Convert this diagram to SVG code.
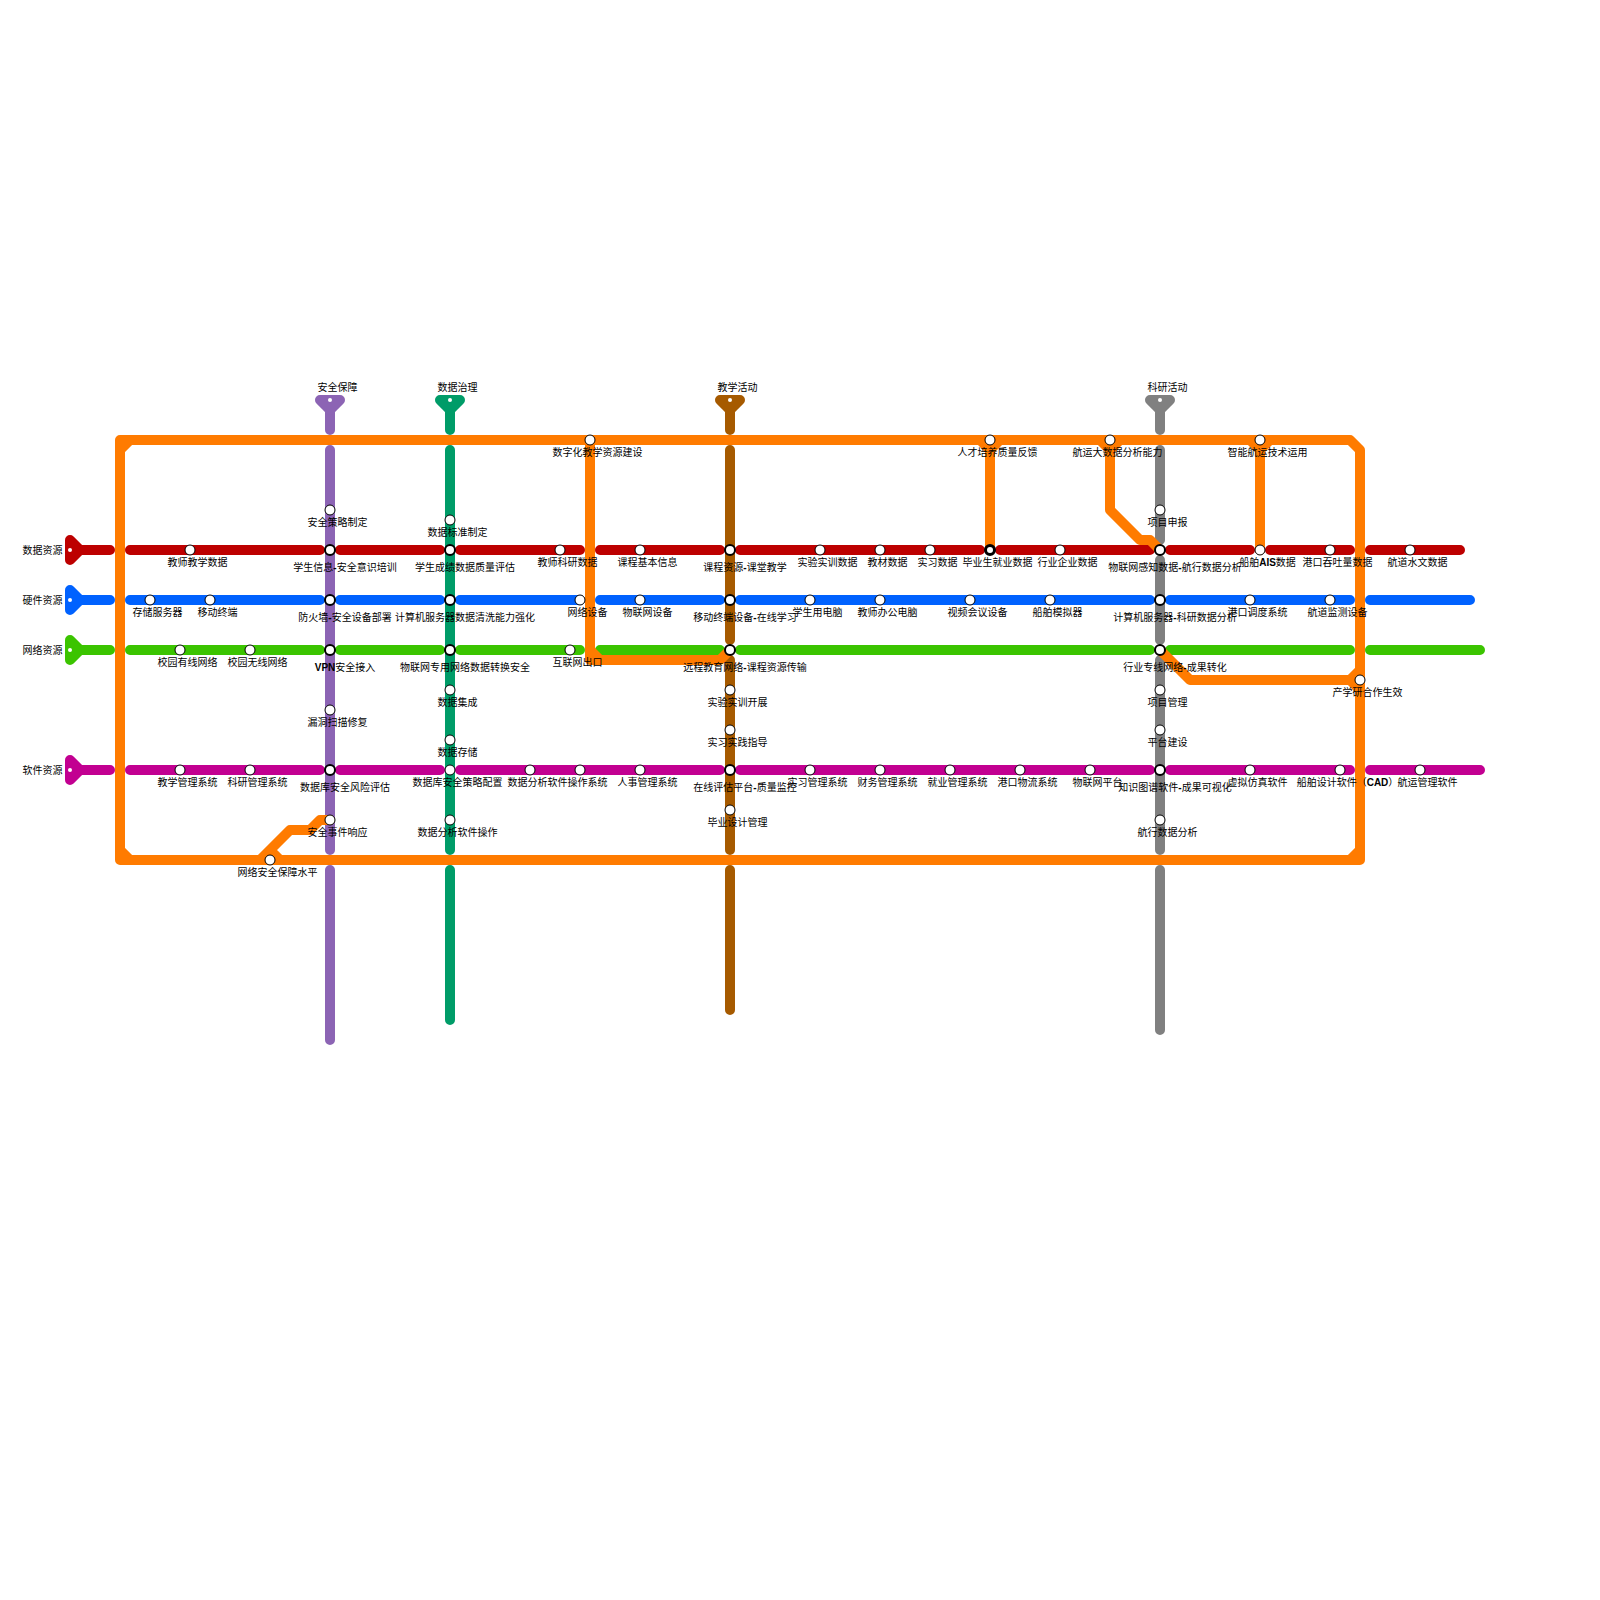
<svg xmlns="http://www.w3.org/2000/svg" width="1600" height="1600" viewBox="0 0 1600 1600">
<style>
text{font-family:"Liberation Sans","Noto Sans CJK SC",sans-serif;font-size:10px;fill:#000}
.t{text-anchor:middle}
.e{text-anchor:end}
.b{font-weight:bold}
.l{fill:none;stroke-width:10;stroke-linecap:round;stroke-linejoin:round}
.cap{stroke-width:10;stroke-linejoin:round}
.dot{fill:#fff;stroke:none}
.n{fill:#fff;stroke:#000;stroke-width:1;r:5px}
.x{fill:#fff;stroke:#000;stroke-width:2;r:5px}
.red{stroke:#bd0000}.redf{fill:#bd0000;stroke:#bd0000}
.blu{stroke:#0062ff}.bluf{fill:#0062ff;stroke:#0062ff}
.grn{stroke:#3bc400}.grnf{fill:#3bc400;stroke:#3bc400}
.mag{stroke:#c20091}.magf{fill:#c20091;stroke:#c20091}
.pur{stroke:#8c64b4}.purf{fill:#8c64b4;stroke:#8c64b4}
.tea{stroke:#009c68}.teaf{fill:#009c68;stroke:#009c68}
.bro{stroke:#a65a00}.brof{fill:#a65a00;stroke:#a65a00}
.gry{stroke:#808080}.gryf{fill:#808080;stroke:#808080}
.org{stroke:#ff7b00}
</style>
<g id="connectors">
<g id="line-data">
<path class="l red" d="M70 550H110M130 550H320M340 550H440M460 550H580M600 550H720M740 550H980M1000 550H1150M1170 550H1250M1270 550H1350M1370 550H1460"/>
<polygon class="cap redf" points="70,540 80,550 70,560"/>
</g>
<g id="line-hardware">
<path class="l blu" d="M70 600H110M130 600H320M340 600H440M460 600H580M600 600H720M740 600H1150M1170 600H1350M1370 600H1470"/>
<polygon class="cap bluf" points="70,590 80,600 70,610"/>
</g>
<g id="line-network">
<path class="l grn" d="M70 650H110M130 650H320M340 650H440M460 650H580M600 650H720M740 650H1150M1170 650H1350M1370 650H1480"/>
<polygon class="cap grnf" points="70,640 80,650 70,660"/>
</g>
<g id="line-software">
<path class="l mag" d="M70 770H110M130 770H320M340 770H440M460 770H720M740 770H1150M1170 770H1350M1370 770H1480"/>
<polygon class="cap magf" points="70,760 80,770 70,780"/>
</g>
<g id="line-security">
<path class="l pur" d="M330 400V430M330 450V850M330 870V1040"/>
<polygon class="cap purf" points="320,400 340,400 330,410"/>
</g>
<g id="line-governance">
<path class="l tea" d="M450 400V430M450 450V850M450 870V1020"/>
<polygon class="cap teaf" points="440,400 460,400 450,410"/>
</g>
<g id="line-teaching">
<path class="l bro" d="M730 400V430M730 450V640M730 660V850M730 870V1010"/>
<polygon class="cap brof" points="720,400 740,400 730,410"/>
</g>
<g id="line-research">
<path class="l gry" d="M1160 400V430M1160 450V540M1160 560V640M1160 660V850M1160 870V1030"/>
<polygon class="cap gryf" points="1150,400 1170,400 1160,410"/>
</g>
<g id="line-outcome">
<path class="l org" d="M1350 440H120V860H1360V450L1350 440"/>
<path class="l org" d="M120 450L130 440M120 850L130 860M1350 860L1360 850"/>
<path class="l org" d="M590 440V660H720L730 650M590 650L600 660"/>
<path class="l org" d="M980 440L990 450L1000 440M990 450V550"/>
<path class="l org" d="M1100 440L1110 450L1120 440M1110 440V510L1140 540H1150L1160 550"/>
<path class="l org" d="M1250 440L1260 450L1270 440M1260 450V550"/>
<path class="l org" d="M1160 650L1190 680H1350L1360 670M1350 680L1360 690"/>
<path class="l org" d="M260 860L290 830H310L320 820H330M270 850L280 860"/>
</g>
</g>
<g id="terminals">
<g id="term-data"><circle class="dot" cx="70" cy="550" r="2"/><text class="e" x="62.5" y="553.5">数据资源</text></g>
<g id="term-hardware"><circle class="dot" cx="70" cy="600" r="2"/><text class="e" x="62.5" y="603.5">硬件资源</text></g>
<g id="term-network"><circle class="dot" cx="70" cy="650" r="2"/><text class="e" x="62.5" y="653.5">网络资源</text></g>
<g id="term-software"><circle class="dot" cx="70" cy="770" r="2"/><text class="e" x="62.5" y="773.5">软件资源</text></g>
<g id="term-security"><circle class="dot" cx="330" cy="400" r="2"/><text class="t" x="337.5" y="391">安全保障</text></g>
<g id="term-governance"><circle class="dot" cx="450" cy="400" r="2"/><text class="t" x="457.5" y="391">数据治理</text></g>
<g id="term-teaching"><circle class="dot" cx="730" cy="400" r="2"/><text class="t" x="737.5" y="391">教学活动</text></g>
<g id="term-research"><circle class="dot" cx="1160" cy="400" r="2"/><text class="t" x="1167.5" y="391">科研活动</text></g>
</g>
<g id="n1"><circle class="n" cx="190" cy="550" r="5"/><text class="t" x="197.5" y="565.5">教师教学数据</text></g>
<g id="n2"><circle class="n" cx="560" cy="550" r="5"/><text class="t" x="567.5" y="565.5">教师科研数据</text></g>
<g id="n3"><circle class="n" cx="640" cy="550" r="5"/><text class="t" x="647.5" y="565.5">课程基本信息</text></g>
<g id="n4"><circle class="n" cx="820" cy="550" r="5"/><text class="t" x="827.5" y="565.5">实验实训数据</text></g>
<g id="n5"><circle class="n" cx="880" cy="550" r="5"/><text class="t" x="887.5" y="565.5">教材数据</text></g>
<g id="n6"><circle class="n" cx="930" cy="550" r="5"/><text class="t" x="937.5" y="565.5">实习数据</text></g>
<g id="n7"><circle cx="990" cy="550" r="4.5" fill="#fff" stroke="#000" stroke-width="3"/><text class="t" x="997.5" y="565.5">毕业生就业数据</text></g>
<g id="n8"><circle class="n" cx="1060" cy="550" r="5"/><text class="t" x="1067.5" y="565.5">行业企业数据</text></g>
<g id="n9"><circle class="n" cx="1260" cy="550" r="5"/><text class="t" x="1267.5" y="565.5">船舶<tspan class="b">AIS</tspan>数据</text></g>
<g id="n10"><circle class="n" cx="1330" cy="550" r="5"/><text class="t" x="1337.5" y="565.5">港口吞吐量数据</text></g>
<g id="n11"><circle class="n" cx="1410" cy="550" r="5"/><text class="t" x="1417.5" y="565.5">航道水文数据</text></g>
<g id="n12"><circle class="n" cx="150" cy="600" r="5"/><text class="t" x="157.5" y="615.5">存储服务器</text></g>
<g id="n13"><circle class="n" cx="210" cy="600" r="5"/><text class="t" x="217.5" y="615.5">移动终端</text></g>
<g id="n14"><circle class="n" cx="580" cy="600" r="5"/><text class="t" x="587.5" y="615.5">网络设备</text></g>
<g id="n15"><circle class="n" cx="640" cy="600" r="5"/><text class="t" x="647.5" y="615.5">物联网设备</text></g>
<g id="n16"><circle class="n" cx="810" cy="600" r="5"/><text class="t" x="817.5" y="615.5">学生用电脑</text></g>
<g id="n17"><circle class="n" cx="880" cy="600" r="5"/><text class="t" x="887.5" y="615.5">教师办公电脑</text></g>
<g id="n18"><circle class="n" cx="970" cy="600" r="5"/><text class="t" x="977.5" y="615.5">视频会议设备</text></g>
<g id="n19"><circle class="n" cx="1050" cy="600" r="5"/><text class="t" x="1057.5" y="615.5">船舶模拟器</text></g>
<g id="n20"><circle class="n" cx="1250" cy="600" r="5"/><text class="t" x="1257.5" y="615.5">港口调度系统</text></g>
<g id="n21"><circle class="n" cx="1330" cy="600" r="5"/><text class="t" x="1337.5" y="615.5">航道监测设备</text></g>
<g id="n22"><circle class="n" cx="180" cy="650" r="5"/><text class="t" x="187.5" y="665.5">校园有线网络</text></g>
<g id="n23"><circle class="n" cx="250" cy="650" r="5"/><text class="t" x="257.5" y="665.5">校园无线网络</text></g>
<g id="n24"><circle class="n" cx="570" cy="650" r="5"/><text class="t" x="577.5" y="665.5">互联网出口</text></g>
<g id="n25"><circle class="n" cx="180" cy="770" r="5"/><text class="t" x="187.5" y="785.5">教学管理系统</text></g>
<g id="n26"><circle class="n" cx="250" cy="770" r="5"/><text class="t" x="257.5" y="785.5">科研管理系统</text></g>
<g id="n27"><circle class="n" cx="450" cy="770" r="5"/><text class="t" x="457.5" y="785.5">数据库安全策略配置</text></g>
<g id="n28"><circle class="n" cx="530" cy="770" r="5"/><text class="t" x="537.5" y="785.5">数据分析软件</text></g>
<g id="n29"><circle class="n" cx="580" cy="770" r="5"/><text class="t" x="587.5" y="785.5">操作系统</text></g>
<g id="n30"><circle class="n" cx="640" cy="770" r="5"/><text class="t" x="647.5" y="785.5">人事管理系统</text></g>
<g id="n31"><circle class="n" cx="810" cy="770" r="5"/><text class="t" x="817.5" y="785.5">实习管理系统</text></g>
<g id="n32"><circle class="n" cx="880" cy="770" r="5"/><text class="t" x="887.5" y="785.5">财务管理系统</text></g>
<g id="n33"><circle class="n" cx="950" cy="770" r="5"/><text class="t" x="957.5" y="785.5">就业管理系统</text></g>
<g id="n34"><circle class="n" cx="1020" cy="770" r="5"/><text class="t" x="1027.5" y="785.5">港口物流系统</text></g>
<g id="n35"><circle class="n" cx="1090" cy="770" r="5"/><text class="t" x="1097.5" y="785.5">物联网平台</text></g>
<g id="n36"><circle class="n" cx="1250" cy="770" r="5"/><text class="t" x="1257.5" y="785.5">虚拟仿真软件</text></g>
<g id="n37"><circle class="n" cx="1340" cy="770" r="5"/><text class="t" x="1347.5" y="785.5">船舶设计软件（<tspan class="b">CAD</tspan>）</text></g>
<g id="n38"><circle class="n" cx="1420" cy="770" r="5"/><text class="t" x="1427.5" y="785.5">航运管理软件</text></g>
<g id="n39"><circle class="n" cx="330" cy="510" r="5"/><text class="t" x="337.5" y="525.5">安全策略制定</text></g>
<g id="n40"><circle class="n" cx="330" cy="710" r="5"/><text class="t" x="337.5" y="725.5">漏洞扫描修复</text></g>
<g id="n41"><circle class="n" cx="330" cy="820" r="5"/><text class="t" x="337.5" y="835.5">安全事件响应</text></g>
<g id="n42"><circle class="n" cx="450" cy="520" r="5"/><text class="t" x="457.5" y="535.5">数据标准制定</text></g>
<g id="n43"><circle class="n" cx="450" cy="690" r="5"/><text class="t" x="457.5" y="705.5">数据集成</text></g>
<g id="n44"><circle class="n" cx="450" cy="740" r="5"/><text class="t" x="457.5" y="755.5">数据存储</text></g>
<g id="n45"><circle class="n" cx="450" cy="820" r="5"/><text class="t" x="457.5" y="835.5">数据分析软件操作</text></g>
<g id="n46"><circle class="n" cx="730" cy="690" r="5"/><text class="t" x="737.5" y="705.5">实验实训开展</text></g>
<g id="n47"><circle class="n" cx="730" cy="730" r="5"/><text class="t" x="737.5" y="745.5">实习实践指导</text></g>
<g id="n48"><circle class="n" cx="730" cy="810" r="5"/><text class="t" x="737.5" y="825.5">毕业设计管理</text></g>
<g id="n49"><circle class="n" cx="1160" cy="510" r="5"/><text class="t" x="1167.5" y="525.5">项目申报</text></g>
<g id="n50"><circle class="n" cx="1160" cy="690" r="5"/><text class="t" x="1167.5" y="705.5">项目管理</text></g>
<g id="n51"><circle class="n" cx="1160" cy="730" r="5"/><text class="t" x="1167.5" y="745.5">平台建设</text></g>
<g id="n52"><circle class="n" cx="1160" cy="820" r="5"/><text class="t" x="1167.5" y="835.5">航行数据分析</text></g>
<g id="n53"><circle class="n" cx="590" cy="440" r="5"/><text class="t" x="597.5" y="455.5">数字化教学资源建设</text></g>
<g id="n54"><circle class="n" cx="990" cy="440" r="5"/><text class="t" x="997.5" y="455.5">人才培养质量反馈</text></g>
<g id="n55"><circle class="n" cx="1110" cy="440" r="5"/><text class="t" x="1117.5" y="455.5">航运大数据分析能力</text></g>
<g id="n56"><circle class="n" cx="1260" cy="440" r="5"/><text class="t" x="1267.5" y="455.5">智能航运技术运用</text></g>
<g id="n57"><circle class="n" cx="1360" cy="680" r="5"/><text class="t" x="1367.5" y="695.5">产学研合作生效</text></g>
<g id="n58"><circle class="n" cx="270" cy="860" r="5"/><text class="t" x="277.5" y="875.5">网络安全保障水平</text></g>
<g id="x1"><circle class="x" cx="330" cy="550" r="5"/><text class="t" x="345" y="570.5">学生信息<tspan class="b">-</tspan>安全意识培训</text></g>
<g id="x2"><circle class="x" cx="330" cy="600" r="5"/><text class="t" x="345" y="620.5">防火墙<tspan class="b">-</tspan>安全设备部署</text></g>
<g id="x3"><circle class="x" cx="330" cy="650" r="5"/><text class="t" x="345" y="670.5"><tspan class="b">VPN</tspan>安全接入</text></g>
<g id="x4"><circle class="x" cx="330" cy="770" r="5"/><text class="t" x="345" y="790.5">数据库安全风险评估</text></g>
<g id="x5"><circle class="x" cx="450" cy="550" r="5"/><text class="t" x="465" y="570.5">学生成绩数据质量评估</text></g>
<g id="x6"><circle class="x" cx="450" cy="600" r="5"/><text class="t" x="465" y="620.5">计算机服务器数据清洗能力强化</text></g>
<g id="x7"><circle class="x" cx="450" cy="650" r="5"/><text class="t" x="465" y="670.5">物联网专用网络数据转换安全</text></g>
<g id="x8"><circle class="x" cx="730" cy="550" r="5"/><text class="t" x="745" y="570.5">课程资源<tspan class="b">-</tspan>课堂教学</text></g>
<g id="x9"><circle class="x" cx="730" cy="600" r="5"/><text class="t" x="745" y="620.5">移动终端设备<tspan class="b">-</tspan>在线学习</text></g>
<g id="x10"><circle class="x" cx="730" cy="650" r="5"/><text class="t" x="745" y="670.5">远程教育网络<tspan class="b">-</tspan>课程资源传输</text></g>
<g id="x11"><circle class="x" cx="730" cy="770" r="5"/><text class="t" x="745" y="790.5">在线评估平台<tspan class="b">-</tspan>质量监控</text></g>
<g id="x12"><circle class="x" cx="1160" cy="550" r="5"/><text class="t" x="1175" y="570.5">物联网感知数据<tspan class="b">-</tspan>航行数据分析</text></g>
<g id="x13"><circle class="x" cx="1160" cy="600" r="5"/><text class="t" x="1175" y="620.5">计算机服务器<tspan class="b">-</tspan>科研数据分析</text></g>
<g id="x14"><circle class="x" cx="1160" cy="650" r="5"/><text class="t" x="1175" y="670.5">行业专线网络<tspan class="b">-</tspan>成果转化</text></g>
<g id="x15"><circle class="x" cx="1160" cy="770" r="5"/><text class="t" x="1175" y="790.5">知识图谱软件<tspan class="b">-</tspan>成果可视化</text></g>
</svg>
